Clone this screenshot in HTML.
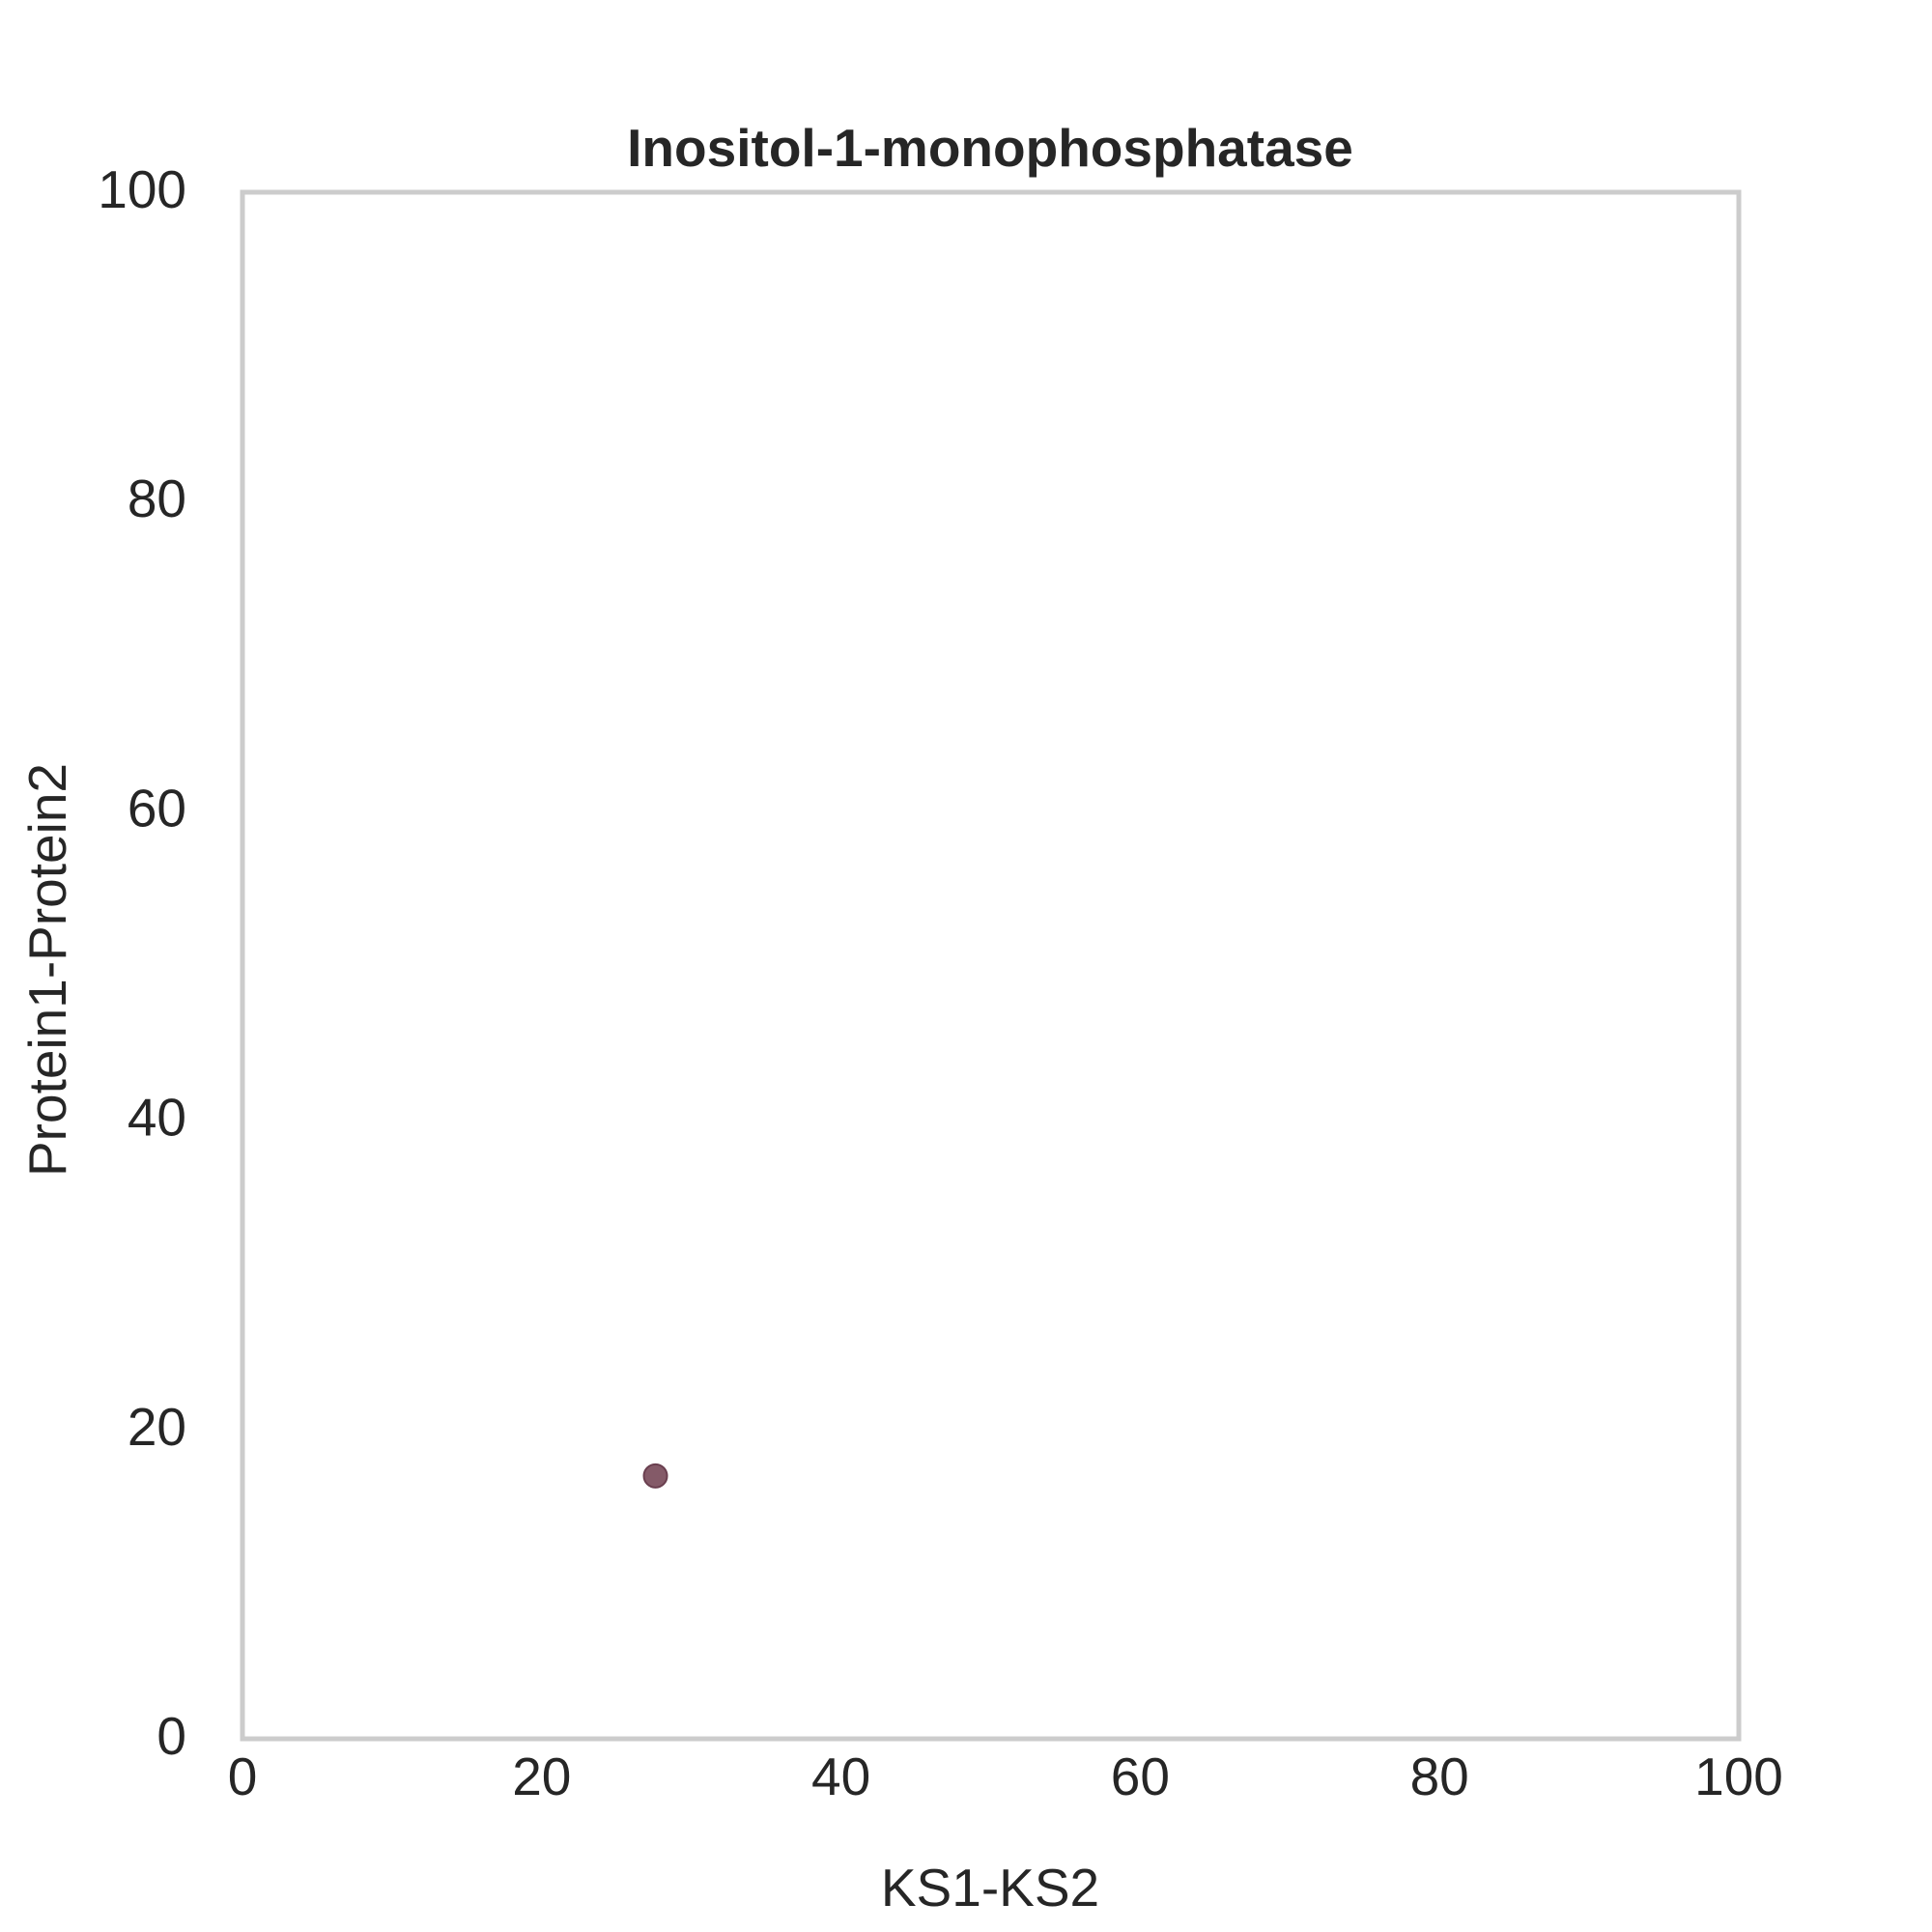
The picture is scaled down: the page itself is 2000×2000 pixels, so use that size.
<!DOCTYPE html>
<html><head><meta charset="utf-8"><style>
html,body{margin:0;padding:0;background:#fff;}
svg{display:block;font-family:"Liberation Sans",Arial,sans-serif;}
</style></head><body>
<svg id="chart" width="2000" height="2000" viewBox="0 0 2000 2000">
<rect x="0" y="0" width="2000" height="2000" fill="#fff"/>
<text x="1025" y="172" text-anchor="middle" font-size="55" font-weight="bold" fill="#262626">Inositol-1-monophosphatase</text>
<g id="xticks"></g>
<g id="yticks"></g>
<text x="1025" y="1973" text-anchor="middle" font-size="55" fill="#262626">KS1-KS2</text>
<text transform="translate(68,1004) rotate(-90)" text-anchor="middle" font-size="55" fill="#262626">Protein1-Protein2</text>
<g id="points"></g>
<rect x="251" y="199" width="1549" height="1601" fill="none" stroke="#cccccc" stroke-width="5"/>
</svg>
<script>
const xTicks=[0,20,40,60,80,100];
const yTicks=[0,20,40,60,80,100];
const xValues=[27.6];
const yValues=[17.0];
const NS="http://www.w3.org/2000/svg";
const X0=251,X1=1800,Y0=1800,Y1=199;
function sx(v){return X0+(v-0)/(100-0)*(X1-X0);}
function sy(v){return Y0-(v-0)/(100-0)*(Y0-Y1);}
const gx=document.getElementById('xticks');
xTicks.forEach(t=>{
  const el=document.createElementNS(NS,'text');
  el.setAttribute('x',sx(t));el.setAttribute('y',1858);
  el.setAttribute('text-anchor','middle');el.setAttribute('font-size','55');el.setAttribute('fill','#262626');
  el.textContent=t;
  
  
  gx.appendChild(el);
});
const gy=document.getElementById('yticks');
yTicks.forEach(t=>{
  const el=document.createElementNS(NS,'text');
  el.setAttribute('x',193);el.setAttribute('y',sy(t)+16);
  el.setAttribute('text-anchor','end');el.setAttribute('font-size','55');el.setAttribute('fill','#262626');
  el.textContent=t;
  
  
  gy.appendChild(el);
});
const gp=document.getElementById('points');
xValues.forEach((v,i)=>{
  const c=document.createElementNS(NS,'circle');
  c.setAttribute('cx',sx(v));c.setAttribute('cy',sy(yValues[i]));c.setAttribute('r',12);
  c.setAttribute('fill','#845a68');c.setAttribute('stroke','#6a3f4f');c.setAttribute('stroke-width','2');
  
  
  gp.appendChild(c);
});
</script>
</body></html>
